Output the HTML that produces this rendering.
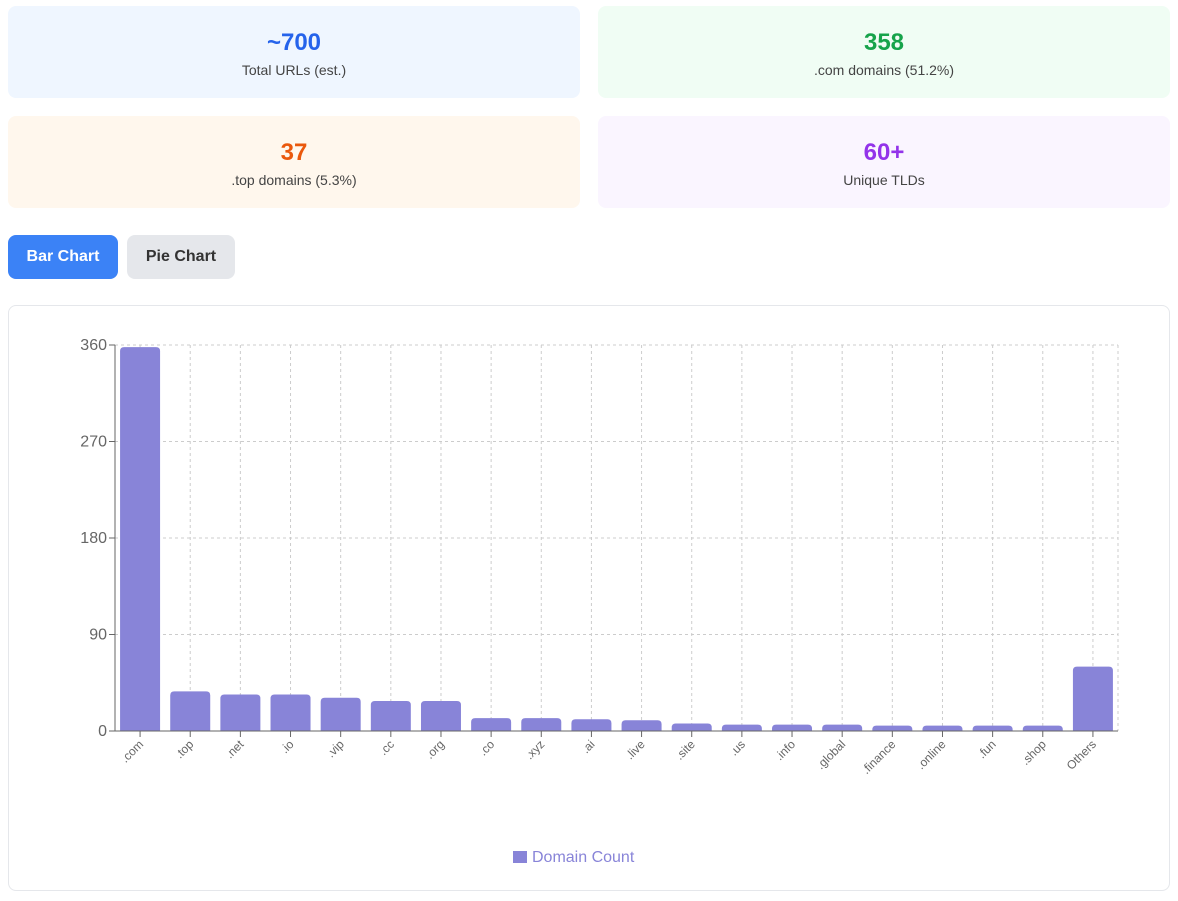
<!DOCTYPE html>
<html><head><meta charset="utf-8"><style>
body{margin:0;width:1178px;height:901px;background:#fff;font-family:"Liberation Sans",sans-serif;position:relative;overflow:hidden}
.card{position:absolute;width:572px;height:92px;border-radius:8px;text-align:center;box-sizing:border-box}
.card .v{font-size:24px;font-weight:bold;margin-top:23px;line-height:28px}
.card .l{font-size:14px;color:#444;margin-top:5px}
.btn{position:absolute;top:235px;height:44px;border-radius:8px;font-size:16px;font-weight:bold;line-height:44px;text-align:center}
#chart{position:absolute;left:8px;top:305px;width:1162px;height:586px;border:1px solid #e5e7eb;border-radius:8px;box-sizing:border-box}
</style></head><body>
<div class="card" style="left:8px;top:6px;background:#eff6ff"><div class="v" style="color:#2563eb">~700</div><div class="l">Total URLs (est.)</div></div>
<div class="card" style="left:598px;top:6px;background:#f0fdf4"><div class="v" style="color:#16a34a">358</div><div class="l">.com domains (51.2%)</div></div>
<div class="card" style="left:8px;top:116px;background:#fff7ed"><div class="v" style="color:#ea580c">37</div><div class="l">.top domains (5.3%)</div></div>
<div class="card" style="left:598px;top:116px;background:#faf5ff"><div class="v" style="color:#9333ea">60+</div><div class="l">Unique TLDs</div></div>
<div class="btn" style="left:8px;width:110px;background:#3b82f6;color:#fff">Bar Chart</div>
<div class="btn" style="left:127px;width:108px;background:#e5e7eb;color:#333">Pie Chart</div>
<div id="chart">
<svg id="svg" width="1162" height="586"></svg>
</div>
<script>
const categories=[".com",".top",".net",".io",".vip",".cc",".org",".co",".xyz",".ai",".live",".site",".us",".info",".global",".finance",".online",".fun",".shop","Others"];
const values=[358,37,34,34,31,28,28,12,12,11,10,7,6,6,6,5,5,5,5,60];
const yTicks=[0,90,180,270,360];
const svg=document.getElementById('svg');
const NS='http://www.w3.org/2000/svg';
const ox=-9,oy=-306;
const x0=115+ox,x1=1118+ox,y0=731+oy,y1=345+oy,ymax=360;
const band=(x1-x0)/categories.length;
const y=v=>y0-(v/ymax)*(y0-y1);
const xc=i=>x0+band*(i+0.5);
function mk(t,a){const e=document.createElementNS(NS,t);for(const k in a)e.setAttribute(k,a[k]);svg.appendChild(e);return e;}
yTicks.forEach(t=>{
 if(t>0){const g=mk('line',{x1:x0,x2:x1,y1:y(t),y2:y(t),stroke:'#ccc','stroke-dasharray':'3 3'});
 
 }
 const l=mk('text',{x:x0-8,y:y(t)+5,'text-anchor':'end','font-size':16,fill:'#666'});l.textContent=t;
 
 
 mk('line',{x1:x0-6,x2:x0,y1:y(t),y2:y(t),stroke:'#666'});
});
categories.forEach((c,i)=>{
 mk('line',{x1:xc(i),x2:xc(i),y1:y1,y2:y0,stroke:'#ccc','stroke-dasharray':'3 3'});
});
mk('line',{x1:x1,x2:x1,y1:y1,y2:y0,stroke:'#ccc','stroke-dasharray':'3 3'});
categories.forEach((c,i)=>{
 const w=40,h=y0-y(values[i]),r=Math.min(4,h);
 const bx=xc(i)-w/2,by=y(values[i]);
 const p=mk('path',{d:`M${bx},${y0}V${by+r}Q${bx},${by} ${bx+r},${by}H${bx+w-r}Q${bx+w},${by} ${bx+w},${by+r}V${y0}Z`,fill:'#8884d8'});
 
 
 mk('line',{x1:xc(i),x2:xc(i),y1:y0,y2:y0+6,stroke:'#666'});
 const t=mk('text',{x:xc(i)+4,y:y0+14,'text-anchor':'end','font-size':12,fill:'#666',transform:`rotate(-45 ${xc(i)+4} ${y0+14})`});
 t.textContent=c;
 
 
});
mk('line',{x1:x0,x2:x1,y1:y0,y2:y0,stroke:'#666'});
mk('line',{x1:x0,x2:x0,y1:y1,y2:y0,stroke:'#666'});
const lr=mk('rect',{x:504,y:545,width:14,height:12,fill:'#8884d8'});


const lt=mk('text',{x:523,y:556,'font-size':16,fill:'#8884d8'});lt.textContent='Domain Count';


</script>
</body></html>
